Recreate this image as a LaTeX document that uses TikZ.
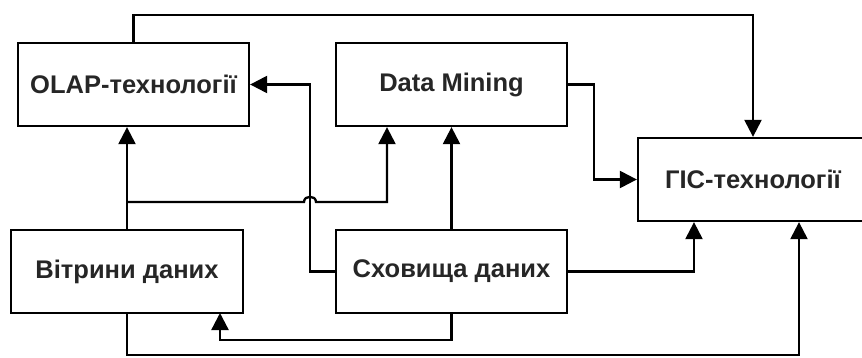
\documentclass[tikz,border=0pt]{standalone}
\usepackage{fontspec}
\setmainfont{Liberation Sans}
\usetikzlibrary{arrows.meta}
\begin{document}
\begin{tikzpicture}[x=1pt,y=-1pt,
  box/.style={draw, line width=2.3pt, rectangle, minimum width=231pt, minimum height=83pt, inner sep=0pt,
    font=\fontsize{25.5}{29}\selectfont\bfseries, text=black!85},
  arr/.style={line width=2.3pt, -{Triangle[length=17pt,width=17pt]}},
  ln/.style={line width=2.3pt}]
\useasboundingbox (0,0) rectangle (862,358);
\fill[white] (0,0) rectangle (862,358);
\node[box] (olap) at (133.5,84.5) {OLAP-технології};
\node[box] (dm) at (451.5,84.5) {Data Mining};
\node[box, minimum width=230pt] (gis) at (753,179.5) {ГІС-технології};
\node[box, minimum width=232pt] (vit) at (127,271.5) {Вітрини даних};
\node[box] (sch) at (451.5,271.5) {Сховища даних};
\coordinate (top) at (0,15);
\coordinate (g1) at (694,0);
\coordinate (g2) at (799,0);
\coordinate (hopa) at (304,202);
\coordinate (hopb) at (316,202);
\coordinate (br) at (127,202);
\coordinate (dmin) at (387,0);
% OLAP -> GIS via top
\draw[arr] (olap.north) -- (olap.north |- top) -| (gis.north);
% Vitryny -> OLAP
\draw[arr] (vit.north) -- (vit.north |- olap.south);
% branch -> Data Mining with hop
\draw[arr] (br) -- (hopa) .. controls (304,195) and (316,195) .. (hopb) -- (dmin |- br) -- (dmin |- dm.south);
% Skhovyshcha -> OLAP
\draw[arr] (sch.west) -| (310,84.5) -- (olap.east);
% Skhovyshcha -> Data Mining
\draw[arr] (sch.north) -- (dm.south);
% Data Mining -> GIS
\draw[arr] (dm.east) -- (594,84.5) |- (gis.west);
% Skhovyshcha -> GIS
\draw[arr] (sch.east) -| (g1 |- gis.south);
% Skhovyshcha -> Vitryny
\draw[arr] (sch.south) |- (220,340) -- (220,313);
% Vitryny -> GIS
\draw[arr] (vit.south) |- (799,355) -- (g2 |- gis.south);
\end{tikzpicture}
\end{document}
